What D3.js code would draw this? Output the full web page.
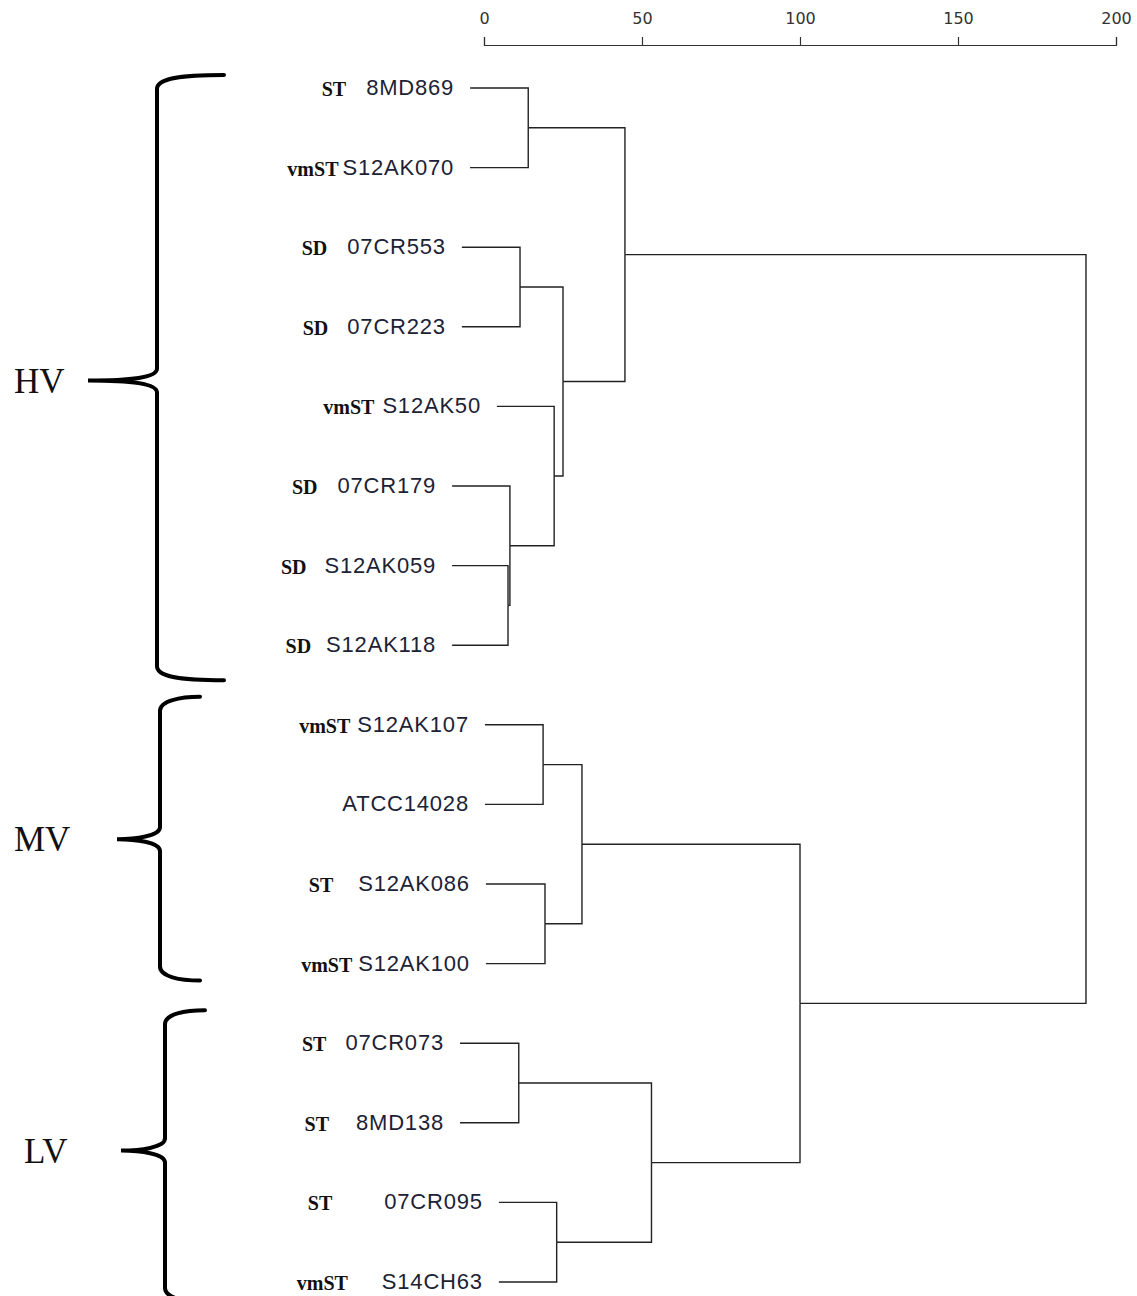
<!DOCTYPE html>
<html lang="en">
<head>
<meta charset="utf-8">
<title>Dendrogram of strains</title>
<script src="https://cdn.jsdelivr.net/npm/d3@7"></script>
<style>
  body { margin: 0; background: #fff; }
  svg { display: block; }
</style>
</head>
<body>
<script>
// leaves, top to bottom
var strains = ["8MD869", "S12AK070", "07CR553", "07CR223", "S12AK50", "07CR179", "S12AK059", "S12AK118",
               "S12AK107", "ATCC14028", "S12AK086", "S12AK100", "07CR073", "8MD138", "07CR095", "S14CH63"];
var serotypes = ["ST", "vmST", "SD", "SD", "vmST", "SD", "SD", "SD",
                 "vmST", "", "ST", "vmST", "ST", "ST", "ST", "vmST"];
// where each leaf branch starts, read in axis units
var tipStart = [-4.4, -4.4, -7, -7, 4.1, -10.1, -10.1, -10.1,
                0.3, 0.3, 0.6, 0.6, -7.6, -7.6, 4.7, 4.7];
// merge steps: id, left, right, height
var merges = [
    ["m1", "S12AK059", "S12AK118", 7.6],
    ["m2", "07CR179", "m1", 8.2],
    ["m3", "07CR553", "07CR223", 11.4],
    ["m4", "07CR073", "8MD138", 11],
    ["m5", "8MD869", "S12AK070", 14],
    ["m6", "S12AK107", "ATCC14028", 18.7],
    ["m7", "S12AK086", "S12AK100", 19.3],
    ["m8", "S12AK50", "m2", 22.2],
    ["m9", "07CR095", "S14CH63", 23],
    ["m10", "m3", "m8", 25],
    ["m11", "m6", "m7", 31],
    ["m12", "m5", "m10", 44.6],
    ["m13", "m4", "m9", 53],
    ["m14", "m11", "m13", 100],
    ["m15", "m12", "m14", 190.5]
];
var tickValues = [0, 50, 100, 150, 200];
var groups = ["HV", "MV", "LV"];
var groupFirst = [0, 8, 12];
var groupLast = [7, 11, 15];

// layout (pixels)
var w = 1137, h = 1296;
var prefixPad = [20, 4, 20, 19, 8, 20, 18, 15, 7, 0, 25, 6, 19, 27, 52, 34];
var braceSpine = [157, 160, 165];
var braceTip = [88, 117, 121];
var braceArm = [224, 200, 205];
var bracePadTop = [13, 28, 33];
var bracePadBot = [35, 17, 20];
var braceMidShift = [14, -5, -12];
var groupLabelX = [14, 14, 24];

var svg = d3.select("body").append("svg")
    .attr("width", w)
    .attr("height", h);

var xScale = d3.scaleLinear().domain([0, 200]).range([484, 1116]);
var yScale = d3.scalePoint().domain(strains).range([88, 1282]);

// axis on top
var axis = d3.axisTop(xScale)
    .tickValues(tickValues)
    .tickSize(8)
    .tickSizeOuter(8)
    .tickPadding(13);
var gAxis = svg.append("g")
    .attr("transform", "translate(0,45)")
    .call(axis);
gAxis.selectAll("path, line").attr("stroke", "#333").attr("stroke-width", 1.2);
gAxis.selectAll("text")
    .attr("font-family", "DejaVu Sans, sans-serif")
    .attr("font-size", "16px")
    .attr("fill", "#333");

// build the tree from the merge list
var nodes = {};
strains.forEach(function(s, i) {
    nodes[s] = { name: s, leaf: i };
});
merges.forEach(function(m) {
    nodes[m[0]] = { name: m[0], height: m[3], children: [nodes[m[1]], nodes[m[2]]] };
});
var root = d3.hierarchy(nodes["m15"]);

root.eachAfter(function(n) {
    if (n.children) {
        n.py = d3.mean(n.children, function(c) { return c.py; });
        n.px = xScale(n.data.height);
    } else {
        n.py = yScale(n.data.name);
        n.px = xScale(tipStart[n.data.leaf]);
    }
});

svg.append("g")
    .selectAll("path")
    .data(root.links())
    .enter()
    .append("path")
    .attr("d", function(l) {
        return "M" + l.target.px + "," + l.target.py +
               "H" + l.source.px + "V" + l.source.py;
    })
    .attr("fill", "none")
    .attr("stroke", "#222")
    .attr("stroke-width", 1.4);

// leaf labels
var leaves = svg.append("g")
    .selectAll("g")
    .data(strains)
    .enter()
    .append("g");

leaves.append("text")
    .attr("class", "strain")
    .attr("x", function(d, i) { return xScale(tipStart[i]) - 16; })
    .attr("y", function(d) { return yScale(d) + 7; })
    .attr("text-anchor", "end")
    .attr("font-family", "Liberation Sans, Arial, sans-serif")
    .attr("font-size", "22px")
    .attr("letter-spacing", "0.8px")
    .attr("fill", "#1c2235")
    .text(function(d) { return d; });

leaves.each(function(d, i) {
    if (!serotypes[i]) return;
    var g = d3.select(this);
    var t = g.select("text.strain");
    var left = xScale(tipStart[i]) - 16 - t.node().getComputedTextLength();
    g.append("text")
        .attr("x", left - prefixPad[i])
        .attr("y", yScale(d) + 8)
        .attr("text-anchor", "end")
        .attr("font-family", "Liberation Serif, Times New Roman, serif")
        .attr("font-weight", "bold")
        .attr("font-size", "20px")
        .attr("fill", "#111")
        .text(serotypes[i]);
});

// group braces
function bracePath(x, top, bot, mid, tip, arm) {
    return "M" + arm + "," + top +
        "C" + (x + 20) + "," + top + " " + x + "," + (top + 4) + " " + x + "," + (top + 14) +
        "V" + (mid - 12) +
        "C" + x + "," + (mid - 3) + " " + (x - 25) + "," + mid + " " + tip + "," + mid +
        "C" + (x - 25) + "," + mid + " " + x + "," + (mid + 3) + " " + x + "," + (mid + 12) +
        "V" + (bot - 14) +
        "C" + x + "," + (bot - 4) + " " + (x + 20) + "," + bot + " " + arm + "," + bot;
}

var gBrace = svg.append("g");
groups.forEach(function(gname, k) {
    var top = yScale(strains[groupFirst[k]]) - bracePadTop[k];
    var bot = yScale(strains[groupLast[k]]) + bracePadBot[k];
    var mid = (yScale(strains[groupFirst[k]]) + yScale(strains[groupLast[k]])) / 2 + braceMidShift[k];
    gBrace.append("path")
        .attr("d", bracePath(braceSpine[k], top, bot, mid, braceTip[k], braceArm[k]))
        .attr("fill", "none")
        .attr("stroke", "#000")
        .attr("stroke-width", 4)
        .attr("stroke-linecap", "round");
    gBrace.append("text")
        .attr("x", groupLabelX[k])
        .attr("y", mid + 12)
        .attr("font-family", "Liberation Serif, Times New Roman, serif")
        .attr("font-size", "35px")
        .attr("fill", "#111")
        .text(gname);
});
</script>
</body>
</html>
